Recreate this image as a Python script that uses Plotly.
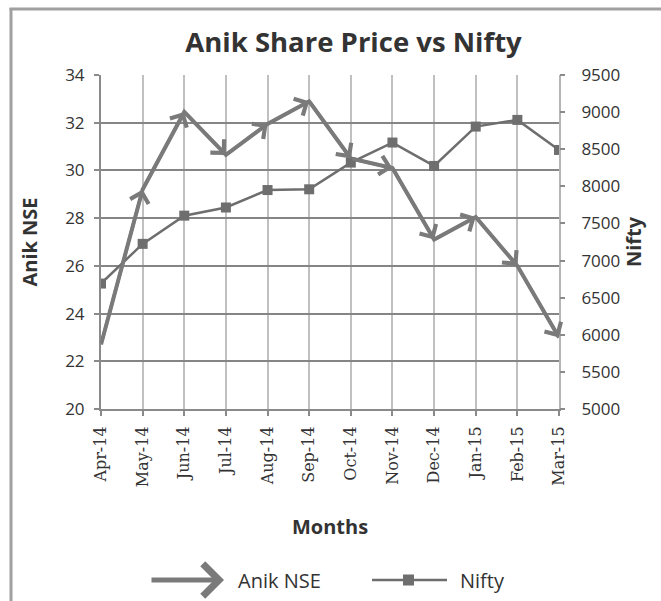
import plotly.graph_objects as go

months = ["Apr-14", "May-14", "Jun-14", "Jul-14", "Aug-14", "Sep-14",
          "Oct-14", "Nov-14", "Dec-14", "Jan-15", "Feb-15", "Mar-15"]
anik_nse = [22.7, 29.2, 32.45, 30.65, 31.95, 32.9, 30.5, 30.1, 27.1, 28.05, 26.0, 23.0]
nifty = [6690, 7225, 7605, 7715, 7950, 7960, 8320, 8590, 8275, 8805, 8895, 8490]
left_ticks = [20, 22, 24, 26, 28, 30, 32, 34]
right_ticks = [5000, 5500, 6000, 6500, 7000, 7500, 8000, 8500, 9000, 9500]

W, H = 661, 601
L, R, T, B = 101, 102, 75, 192
PW, PH = W - L - R, H - T - B

def px(x):
    return (x - L) / PW

def py(y):
    return (H - B - y) / PH

LINE_C = "#7a7a7a"
NIFTY_C = "#6e6e6e"
TXT_C = "#333333"
FONT = "Open Sans"

fig = go.Figure()
fig.add_trace(go.Scatter(
    x=months, y=anik_nse, name="Anik NSE", yaxis="y",
    mode="lines", line=dict(color=LINE_C, width=4),
    showlegend=False,
))
fig.add_trace(go.Scatter(
    x=months, y=nifty, name="Nifty", yaxis="y2",
    mode="lines+markers",
    line=dict(color=NIFTY_C, width=2.5),
    marker=dict(symbol="square", color=NIFTY_C, size=10),
    showlegend=False,
))
# empty trace so the helper axis with the short right-hand tick marks is drawn
fig.add_trace(go.Scatter(x=[], y=[], yaxis="y3", showlegend=False, hoverinfo="skip"))

# arrow heads at the end of every Anik NSE segment
for i in range(1, len(months)):
    fig.add_annotation(x=months[i], y=anik_nse[i], xref="x", yref="y",
                       ax=months[i - 1], ay=anik_nse[i - 1], axref="x", ayref="y",
                       text="", showarrow=True, arrowhead=4, arrowsize=1.15,
                       arrowwidth=3.2, arrowcolor=LINE_C)

fig.update_layout(
    width=W, height=H,
    margin=dict(l=L, r=R, t=T, b=B, autoexpand=False),
    paper_bgcolor="white", plot_bgcolor="white",
    font=dict(family=FONT, color=TXT_C, size=17),
    title=dict(text="<b>Anik Share Price vs Nifty</b>", x=353.5 / W, xref="container",
               xanchor="center", y=1 - 42 / H, yref="container", yanchor="middle",
               font=dict(family=FONT, size=27.5, color=TXT_C)),
    xaxis=dict(type="category", range=[0, 11], showgrid=True, gridcolor="#c0c0c0",
               gridwidth=2, showline=True, linecolor="#8a8a8a", linewidth=2,
               ticks="outside", ticklen=5, tickwidth=2, tickcolor="#8a8a8a",
               tickangle=-90, tickfont=dict(family="DejaVu Serif", size=16, color=TXT_C),
               ticklabelstandoff=4,
               title=dict(text="<b>Months</b>", font=dict(family=FONT, size=20, color=TXT_C),
                          standoff=34),
               zeroline=False),
    yaxis=dict(range=[20, 34], tickvals=left_ticks, showgrid=True, gridcolor="#858585",
               gridwidth=2, showline=True, linecolor="#8a8a8a", linewidth=2,
               ticks="outside", ticklen=5, tickwidth=2, tickcolor="#8a8a8a",
               ticklabelstandoff=6, tickfont=dict(size=17, color=TXT_C),
               title=dict(text="<b>Anik NSE</b>", font=dict(family=FONT, size=20, color=TXT_C),
                          standoff=22),
               zeroline=False),
    # right axis: labels pushed out with long transparent ticks
    yaxis2=dict(range=[5000, 9500], tickvals=right_ticks, overlaying="y", side="right",
                showgrid=False, showline=True, linecolor="#b5b5b5", linewidth=2,
                ticks="outside", ticklen=17, tickwidth=2, tickcolor="rgba(0,0,0,0)",
                tickfont=dict(size=17, color=TXT_C),
                title=dict(text="<b>Nifty</b>", font=dict(family=FONT, size=20, color=TXT_C),
                           standoff=6),
                zeroline=False),
    # visible short tick marks for the right axis
    yaxis3=dict(range=[5000, 9500], tickvals=right_ticks, overlaying="y", side="right",
                showgrid=False, showline=False, showticklabels=False,
                ticks="outside", ticklen=5, tickwidth=2, tickcolor="#8a8a8a",
                zeroline=False),
)

# chart border (partly cropped in the original)
fig.add_shape(type="line", xref="paper", yref="paper", x0=px(11), x1=px(11),
              y0=py(8), y1=py(610), line=dict(color="#a0a0a0", width=3))
fig.add_shape(type="line", xref="paper", yref="paper", x0=px(9.5), x1=px(670),
              y0=py(9), y1=py(9), line=dict(color="#a0a0a0", width=3))

# custom legend
fig.add_annotation(xref="paper", yref="paper", x=px(224), y=py(580), ax=-74, ay=0,
                   text="", showarrow=True, arrowhead=4, arrowsize=1.25, arrowwidth=5,
                   arrowcolor=LINE_C)
fig.add_annotation(xref="paper", yref="paper", x=px(236), y=py(580), text="Anik NSE",
                   showarrow=False, xanchor="left", yanchor="middle",
                   font=dict(family=FONT, size=20, color=TXT_C))
fig.add_shape(type="line", xref="paper", yref="paper", x0=px(372), x1=px(447),
              y0=py(580), y1=py(580), line=dict(color=NIFTY_C, width=2.5))
fig.add_shape(type="rect", xref="paper", yref="paper", x0=px(403), x1=px(414),
              y0=py(574.5), y1=py(585.5), line=dict(width=0), fillcolor=NIFTY_C)
fig.add_annotation(xref="paper", yref="paper", x=px(458), y=py(580), text="Nifty",
                   showarrow=False, xanchor="left", yanchor="middle",
                   font=dict(family=FONT, size=20, color=TXT_C))

fig.write_html("out.html", config={"displayModeBar": False},
               post_script="document.body.style.margin='0px';")
